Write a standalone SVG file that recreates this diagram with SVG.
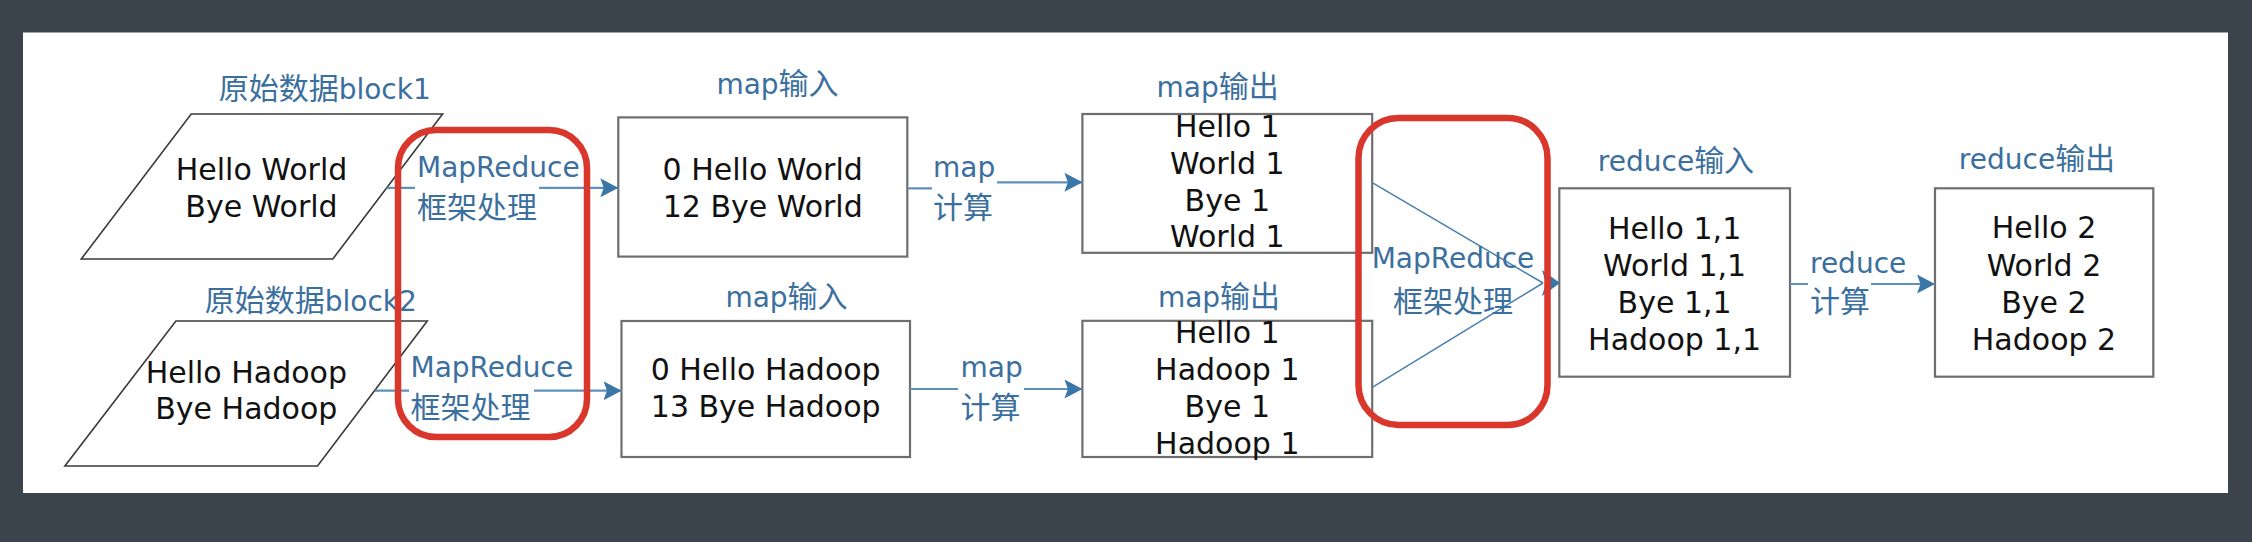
<svg xmlns="http://www.w3.org/2000/svg" width="2252" height="542" viewBox="0 0 2252 542">
  <style>
    .panel { fill: #ffffff; }
    .para { fill: #ffffff; stroke: #3a3a3a; stroke-width: 1.6; }
    .box { fill: #ffffff; stroke: #6e6e6e; stroke-width: 2.2; }
    .blk { font-family: "DejaVu Sans", "Noto Sans CJK SC", sans-serif; font-size: 30px; fill: #111111; text-anchor: middle; }
    .blue { font-family: "DejaVu Sans", "Noto Sans CJK SC", sans-serif; font-size: 28px; fill: #3b6f9e; }
    .mid { text-anchor: middle; }
    .cj { font-family: "Noto Sans CJK SC", sans-serif; font-size: 30px; }
    .conn { fill: none; stroke: #5f90ba; stroke-width: 2.2; }
    .thin { fill: none; stroke: #4a80ae; stroke-width: 1.5; }
    .hl { fill: none; stroke: #d9362c; stroke-width: 6.5; }
  </style>
  <defs>
    <marker id="ah" markerUnits="userSpaceOnUse" markerWidth="18" markerHeight="19" viewBox="0 0 18 19" refX="18" refY="9.5" orient="auto">
      <path d="M0,0 L18,9.5 L0,19 L3.5,9.5 z" fill="#3a76a8"/>
    </marker>
  </defs>

  <rect x="0" y="0" width="2252" height="542" fill="#3b434d"/>
  <rect class="panel" x="23" y="32.5" width="2205" height="460.5"/>

  <g id="block1">
    <text class="blue mid" x="324.7" y="99"><tspan class="cj">原始数据</tspan>block1</text>
    <polygon class="para" points="191.2,114 442.6,114 332.8,259 81.3,259"/>
    <text class="blk" x="261.5" y="180">Hello World</text>
    <text class="blk" x="261.5" y="216.7">Bye World</text>
  </g>

  <g id="block2">
    <text class="blue mid" x="310.8" y="310.7"><tspan class="cj">原始数据</tspan>block2</text>
    <polygon class="para" points="175.9,321 427.3,321 317.5,466 64.9,466"/>
    <text class="blk" x="246.3" y="382.7">Hello Hadoop</text>
    <text class="blk" x="246.3" y="419.3">Bye Hadoop</text>
  </g>

  <g id="mapin1">
    <text class="blue mid" x="777.5" y="94">map<tspan class="cj">输入</tspan></text>
    <rect class="box" x="618.3" y="117.4" width="289" height="139.2"/>
    <text class="blk" x="762.7" y="180">0 Hello World</text>
    <text class="blk" x="762.7" y="217">12 Bye World</text>
  </g>

  <g id="mapin2">
    <text class="blue mid" x="786.5" y="307">map<tspan class="cj">输入</tspan></text>
    <rect class="box" x="621.5" y="321" width="288.5" height="136"/>
    <text class="blk" x="765.7" y="380">0 Hello Hadoop</text>
    <text class="blk" x="765.7" y="416.5">13 Bye Hadoop</text>
  </g>

  <g id="mapout1">
    <text class="blue mid" x="1217.7" y="96.7">map<tspan class="cj">输出</tspan></text>
    <rect class="box" x="1082.4" y="114" width="289.8" height="138.8"/>
    <text class="blk" x="1227.3" y="137.3">Hello 1</text>
    <text class="blk" x="1227.3" y="174">World 1</text>
    <text class="blk" x="1227.3" y="210.7">Bye 1</text>
    <text class="blk" x="1227.3" y="247.3">World 1</text>
  </g>

  <g id="mapout2">
    <text class="blue mid" x="1219" y="307">map<tspan class="cj">输出</tspan></text>
    <rect class="box" x="1082.4" y="320.8" width="289.8" height="136.2"/>
    <text class="blk" x="1227.3" y="343.2">Hello 1</text>
    <text class="blk" x="1227.3" y="380">Hadoop 1</text>
    <text class="blk" x="1227.3" y="416.8">Bye 1</text>
    <text class="blk" x="1227.3" y="453.6">Hadoop 1</text>
  </g>

  <g id="reducein">
    <text class="blue mid" x="1676" y="171">reduce<tspan class="cj">输入</tspan></text>
    <rect class="box" x="1559.3" y="188.3" width="230.7" height="188.4"/>
    <text class="blk" x="1674.6" y="238.5">Hello 1,1</text>
    <text class="blk" x="1674.6" y="275.5">World 1,1</text>
    <text class="blk" x="1674.6" y="312.7">Bye 1,1</text>
    <text class="blk" x="1674.6" y="349.8">Hadoop 1,1</text>
  </g>

  <g id="reduceout">
    <text class="blue mid" x="2037" y="168.5">reduce<tspan class="cj">输出</tspan></text>
    <rect class="box" x="1935" y="188.3" width="218.3" height="188.4"/>
    <text class="blk" x="2044" y="238.4">Hello 2</text>
    <text class="blk" x="2044" y="275.6">World 2</text>
    <text class="blk" x="2044" y="312.7">Bye 2</text>
    <text class="blk" x="2044" y="349.9">Hadoop 2</text>
  </g>

  <g id="connectors">
    <path class="conn" d="M386.5,187.8 L415,187.8 M539,187.8 L618.3,187.8" marker-end="url(#ah)"/>
    <path class="conn" d="M375,390.7 L409,390.7 M534,390.7 L621.5,390.7" marker-end="url(#ah)"/>
    <path class="conn" d="M907.3,188.3 L932,188.3 M997,182.3 L1082.4,182.3" marker-end="url(#ah)"/>
    <path class="conn" d="M910,389 L958,389 M1024,389 L1082.4,389" marker-end="url(#ah)"/>
    <path class="thin" d="M1372.2,182.7 L1543,283"/>
    <path class="thin" d="M1372.2,387.3 L1543,283"/>
    <path d="M1542,270 L1560,283 L1542,296 L1546,283 z" fill="#3a76a8"/>
    <path class="conn" d="M1790,284 L1808,284 M1871,284 L1935,284" marker-end="url(#ah)"/>
  </g>

  <g id="label-mr1">
    <text class="blue" x="417" y="176.7">MapReduce</text>
    <text class="blue cj" x="417" y="218.3">框架处理</text>
  </g>
  <g id="label-mr2">
    <text class="blue" x="410.5" y="377.3">MapReduce</text>
    <text class="blue cj" x="410.5" y="418.3">框架处理</text>
  </g>
  <g id="label-map1">
    <text class="blue" x="933" y="177">map</text>
    <text class="blue cj" x="933" y="218.3">计算</text>
  </g>
  <g id="label-map2">
    <text class="blue" x="960.6" y="376.8">map</text>
    <text class="blue cj" x="960.6" y="418">计算</text>
  </g>
  <g id="label-mr3">
    <text class="blue mid" x="1453" y="268.3">MapReduce</text>
    <text class="blue cj mid" x="1453" y="311.7">框架处理</text>
  </g>
  <g id="label-reduce">
    <text class="blue" x="1810" y="272.7">reduce</text>
    <text class="blue cj" x="1810" y="311.7">计算</text>
  </g>

  <g id="highlight1">
    <rect class="hl" x="398" y="130" width="189" height="307" rx="38" ry="38"/>
  </g>
  <g id="highlight2">
    <rect class="hl" x="1358.5" y="118" width="189" height="307" rx="40" ry="40"/>
  </g>
</svg>
